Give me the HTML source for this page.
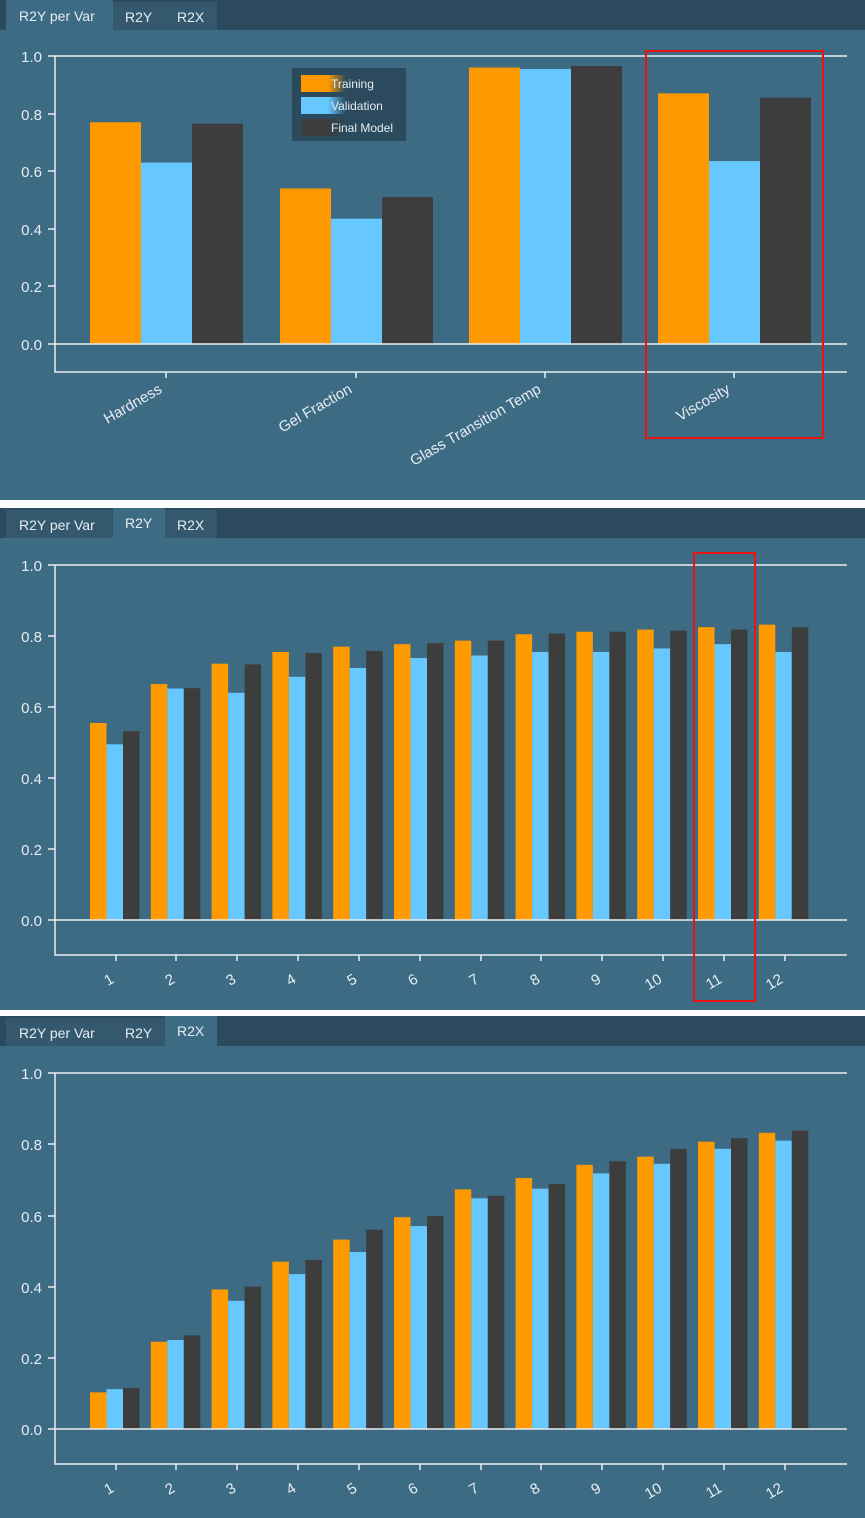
<!DOCTYPE html>
<html><head><meta charset="utf-8"><style>
html,body{margin:0;padding:0;background:#fff;}
svg{display:block;font-family:"Liberation Sans",sans-serif;}
</style></head><body>
<svg width="865" height="1518" viewBox="0 0 865 1518" xmlns="http://www.w3.org/2000/svg">
<defs>
<linearGradient id="go" x1="0" x2="1"><stop offset="0.6" stop-color="#ff9900"/><stop offset="1" stop-color="#ff9900" stop-opacity="0"/></linearGradient>
<linearGradient id="gb" x1="0" x2="1"><stop offset="0.6" stop-color="#66c8ff"/><stop offset="1" stop-color="#66c8ff" stop-opacity="0"/></linearGradient>
<linearGradient id="gd" x1="0" x2="1"><stop offset="0.6" stop-color="#3d3d3d"/><stop offset="1" stop-color="#3d3d3d" stop-opacity="0"/></linearGradient>
</defs>
<rect width="865" height="1518" fill="#fff"/>
<!-- ========== PANEL 1 ========== -->
<rect x="0" y="0" width="865" height="500" fill="#3d6b84"/>
<rect x="0" y="0" width="865" height="30" fill="#2b4a5e"/>
<rect x="6" y="0" width="107" height="30" fill="#3d6b84"/>
<rect x="113" y="2" width="104" height="28" fill="#34596f"/>
<g fill="#e6edf2" font-size="14">
<text x="19" y="21">R2Y per Var</text><text x="125" y="22">R2Y</text><text x="177" y="22">R2X</text></g>
<g transform="translate(0,344) scale(1,-288)">
<g transform="translate(90,0)"><rect width="51" height="0.77" fill="#ff9900"/><rect x="51" width="51" height="0.63" fill="#66c8ff"/><rect x="102" width="51" height="0.765" fill="#3d3d3d"/></g>
<g transform="translate(280,0)"><rect width="51" height="0.54" fill="#ff9900"/><rect x="51" width="51" height="0.435" fill="#66c8ff"/><rect x="102" width="51" height="0.51" fill="#3d3d3d"/></g>
<g transform="translate(469,0)"><rect width="51" height="0.96" fill="#ff9900"/><rect x="51" width="51" height="0.955" fill="#66c8ff"/><rect x="102" width="51" height="0.965" fill="#3d3d3d"/></g>
<g transform="translate(658,0)"><rect width="51" height="0.87" fill="#ff9900"/><rect x="51" width="51" height="0.635" fill="#66c8ff"/><rect x="102" width="51" height="0.855" fill="#3d3d3d"/></g>
</g>
<g stroke="#e8eef2" stroke-width="1.5" fill="none">
<path d="M55 56H847M55 56V372H847M55 344H847"/>
<path d="M48 56H55M48 114H55M48 171H55M48 229H55M48 286H55M48 344H55"/>
<path d="M166 372V378M356 372V378M545 372V378M734 372V378"/>
</g>
<g fill="#e6edf2" font-size="15" text-anchor="end">
<text x="42" y="62">1.0</text><text x="42" y="120">0.8</text><text x="42" y="177">0.6</text><text x="42" y="235">0.4</text><text x="42" y="292">0.2</text><text x="42" y="350">0.0</text>
<text transform="translate(163,392) rotate(-30)">Hardness</text>
<text transform="translate(353,392) rotate(-30)">Gel Fraction</text>
<text transform="translate(542,392) rotate(-30)">Glass Transition Temp</text>
<text transform="translate(731,392) rotate(-30)">Viscosity</text>
</g>
<rect x="292" y="68" width="114" height="73" fill="#2b4a5e"/>
<rect x="301" y="75" width="45" height="17" fill="url(#go)"/>
<rect x="301" y="97" width="45" height="17" fill="url(#gb)"/>
<rect x="301" y="119" width="45" height="17" fill="url(#gd)"/>
<g fill="#e6edf2" font-size="12"><text x="331" y="88">Training</text><text x="331" y="110">Validation</text><text x="331" y="132">Final Model</text></g>
<rect x="646" y="51" width="177" height="387" fill="none" stroke="#ee1111" stroke-width="2"/>

<!-- ========== PANEL 2 ========== -->
<rect x="0" y="508" width="865" height="502" fill="#3d6b84"/>
<rect x="0" y="508" width="865" height="30" fill="#2b4a5e"/>
<rect x="6" y="510" width="107" height="28" fill="#34596f"/>
<rect x="113" y="508" width="52" height="30" fill="#3d6b84"/>
<rect x="165" y="510" width="52" height="28" fill="#34596f"/>
<g fill="#e6edf2" font-size="14">
<text x="19" y="530">R2Y per Var</text><text x="125" y="528">R2Y</text><text x="177" y="530">R2X</text></g>
<g transform="translate(0,920) scale(1,-355)">
<g transform="translate(90,0)"><rect width="16.5" height="0.555" fill="#ff9900"/><rect x="16.5" width="16.5" height="0.495" fill="#66c8ff"/><rect x="33" width="16.5" height="0.532" fill="#3d3d3d"/></g>
<g transform="translate(150.8,0)"><rect width="16.5" height="0.665" fill="#ff9900"/><rect x="16.5" width="16.5" height="0.652" fill="#66c8ff"/><rect x="33" width="16.5" height="0.653" fill="#3d3d3d"/></g>
<g transform="translate(211.6,0)"><rect width="16.5" height="0.722" fill="#ff9900"/><rect x="16.5" width="16.5" height="0.64" fill="#66c8ff"/><rect x="33" width="16.5" height="0.72" fill="#3d3d3d"/></g>
<g transform="translate(272.4,0)"><rect width="16.5" height="0.755" fill="#ff9900"/><rect x="16.5" width="16.5" height="0.685" fill="#66c8ff"/><rect x="33" width="16.5" height="0.752" fill="#3d3d3d"/></g>
<g transform="translate(333.2,0)"><rect width="16.5" height="0.77" fill="#ff9900"/><rect x="16.5" width="16.5" height="0.71" fill="#66c8ff"/><rect x="33" width="16.5" height="0.758" fill="#3d3d3d"/></g>
<g transform="translate(394,0)"><rect width="16.5" height="0.777" fill="#ff9900"/><rect x="16.5" width="16.5" height="0.738" fill="#66c8ff"/><rect x="33" width="16.5" height="0.78" fill="#3d3d3d"/></g>
<g transform="translate(454.8,0)"><rect width="16.5" height="0.787" fill="#ff9900"/><rect x="16.5" width="16.5" height="0.745" fill="#66c8ff"/><rect x="33" width="16.5" height="0.787" fill="#3d3d3d"/></g>
<g transform="translate(515.6,0)"><rect width="16.5" height="0.805" fill="#ff9900"/><rect x="16.5" width="16.5" height="0.755" fill="#66c8ff"/><rect x="33" width="16.5" height="0.807" fill="#3d3d3d"/></g>
<g transform="translate(576.4,0)"><rect width="16.5" height="0.812" fill="#ff9900"/><rect x="16.5" width="16.5" height="0.755" fill="#66c8ff"/><rect x="33" width="16.5" height="0.812" fill="#3d3d3d"/></g>
<g transform="translate(637.2,0)"><rect width="16.5" height="0.818" fill="#ff9900"/><rect x="16.5" width="16.5" height="0.765" fill="#66c8ff"/><rect x="33" width="16.5" height="0.815" fill="#3d3d3d"/></g>
<g transform="translate(698,0)"><rect width="16.5" height="0.825" fill="#ff9900"/><rect x="16.5" width="16.5" height="0.777" fill="#66c8ff"/><rect x="33" width="16.5" height="0.818" fill="#3d3d3d"/></g>
<g transform="translate(758.8,0)"><rect width="16.5" height="0.832" fill="#ff9900"/><rect x="16.5" width="16.5" height="0.755" fill="#66c8ff"/><rect x="33" width="16.5" height="0.825" fill="#3d3d3d"/></g>
</g>
<g stroke="#e8eef2" stroke-width="1.5" fill="none">
<path d="M55 565H847M55 565V955H847M55 920H847"/>
<path d="M48 565H55M48 636H55M48 707H55M48 778H55M48 849H55M48 920H55"/>
<path d="M116 955V961M176 955V961M237 955V961M298 955V961M359 955V961M420 955V961M481 955V961M541 955V961M602 955V961M663 955V961M724 955V961M785 955V961"/>
</g>
<g fill="#e6edf2" font-size="15" text-anchor="end">
<text x="42" y="571">1.0</text><text x="42" y="642">0.8</text><text x="42" y="713">0.6</text><text x="42" y="784">0.4</text><text x="42" y="855">0.2</text><text x="42" y="926">0.0</text>
<text transform="translate(115,982) rotate(-30)">1</text>
<text transform="translate(176,982) rotate(-30)">2</text>
<text transform="translate(237,982) rotate(-30)">3</text>
<text transform="translate(297,982) rotate(-30)">4</text>
<text transform="translate(358,982) rotate(-30)">5</text>
<text transform="translate(419,982) rotate(-30)">6</text>
<text transform="translate(480,982) rotate(-30)">7</text>
<text transform="translate(541,982) rotate(-30)">8</text>
<text transform="translate(602,982) rotate(-30)">9</text>
<text transform="translate(663,982) rotate(-30)">10</text>
<text transform="translate(723,982) rotate(-30)">11</text>
<text transform="translate(784,982) rotate(-30)">12</text>
</g>
<rect x="694" y="553" width="61" height="448" fill="none" stroke="#ee1111" stroke-width="2"/>

<!-- ========== PANEL 3 ========== -->
<rect x="0" y="1016" width="865" height="502" fill="#3d6b84"/>
<rect x="0" y="1016" width="865" height="30" fill="#2b4a5e"/>
<rect x="6" y="1018" width="107" height="28" fill="#34596f"/>
<rect x="113" y="1018" width="52" height="28" fill="#34596f"/>
<rect x="165" y="1016" width="52" height="30" fill="#3d6b84"/>
<g fill="#e6edf2" font-size="14">
<text x="19" y="1038">R2Y per Var</text><text x="125" y="1038">R2Y</text><text x="177" y="1036">R2X</text></g>
<g transform="translate(0,1429) scale(1,-356)">
<g transform="translate(90,0)"><rect width="16.5" height="0.103" fill="#ff9900"/><rect x="16.5" width="16.5" height="0.112" fill="#66c8ff"/><rect x="33" width="16.5" height="0.115" fill="#3d3d3d"/></g>
<g transform="translate(150.8,0)"><rect width="16.5" height="0.245" fill="#ff9900"/><rect x="16.5" width="16.5" height="0.25" fill="#66c8ff"/><rect x="33" width="16.5" height="0.263" fill="#3d3d3d"/></g>
<g transform="translate(211.6,0)"><rect width="16.5" height="0.392" fill="#ff9900"/><rect x="16.5" width="16.5" height="0.36" fill="#66c8ff"/><rect x="33" width="16.5" height="0.4" fill="#3d3d3d"/></g>
<g transform="translate(272.4,0)"><rect width="16.5" height="0.47" fill="#ff9900"/><rect x="16.5" width="16.5" height="0.435" fill="#66c8ff"/><rect x="33" width="16.5" height="0.475" fill="#3d3d3d"/></g>
<g transform="translate(333.2,0)"><rect width="16.5" height="0.532" fill="#ff9900"/><rect x="16.5" width="16.5" height="0.497" fill="#66c8ff"/><rect x="33" width="16.5" height="0.56" fill="#3d3d3d"/></g>
<g transform="translate(394,0)"><rect width="16.5" height="0.595" fill="#ff9900"/><rect x="16.5" width="16.5" height="0.57" fill="#66c8ff"/><rect x="33" width="16.5" height="0.598" fill="#3d3d3d"/></g>
<g transform="translate(454.8,0)"><rect width="16.5" height="0.673" fill="#ff9900"/><rect x="16.5" width="16.5" height="0.648" fill="#66c8ff"/><rect x="33" width="16.5" height="0.655" fill="#3d3d3d"/></g>
<g transform="translate(515.6,0)"><rect width="16.5" height="0.705" fill="#ff9900"/><rect x="16.5" width="16.5" height="0.675" fill="#66c8ff"/><rect x="33" width="16.5" height="0.688" fill="#3d3d3d"/></g>
<g transform="translate(576.4,0)"><rect width="16.5" height="0.742" fill="#ff9900"/><rect x="16.5" width="16.5" height="0.718" fill="#66c8ff"/><rect x="33" width="16.5" height="0.752" fill="#3d3d3d"/></g>
<g transform="translate(637.2,0)"><rect width="16.5" height="0.765" fill="#ff9900"/><rect x="16.5" width="16.5" height="0.745" fill="#66c8ff"/><rect x="33" width="16.5" height="0.787" fill="#3d3d3d"/></g>
<g transform="translate(698,0)"><rect width="16.5" height="0.807" fill="#ff9900"/><rect x="16.5" width="16.5" height="0.787" fill="#66c8ff"/><rect x="33" width="16.5" height="0.817" fill="#3d3d3d"/></g>
<g transform="translate(758.8,0)"><rect width="16.5" height="0.832" fill="#ff9900"/><rect x="16.5" width="16.5" height="0.81" fill="#66c8ff"/><rect x="33" width="16.5" height="0.838" fill="#3d3d3d"/></g>
</g>
<g stroke="#e8eef2" stroke-width="1.5" fill="none">
<path d="M55 1073H847M55 1073V1464H847M55 1429H847"/>
<path d="M48 1073H55M48 1144H55M48 1216H55M48 1287H55M48 1358H55M48 1429H55"/>
<path d="M116 1464V1470M176 1464V1470M237 1464V1470M298 1464V1470M359 1464V1470M420 1464V1470M481 1464V1470M541 1464V1470M602 1464V1470M663 1464V1470M724 1464V1470M785 1464V1470"/>
</g>
<g fill="#e6edf2" font-size="15" text-anchor="end">
<text x="42" y="1079">1.0</text><text x="42" y="1150">0.8</text><text x="42" y="1222">0.6</text><text x="42" y="1293">0.4</text><text x="42" y="1364">0.2</text><text x="42" y="1435">0.0</text>
<text transform="translate(115,1491) rotate(-30)">1</text>
<text transform="translate(176,1491) rotate(-30)">2</text>
<text transform="translate(237,1491) rotate(-30)">3</text>
<text transform="translate(297,1491) rotate(-30)">4</text>
<text transform="translate(358,1491) rotate(-30)">5</text>
<text transform="translate(419,1491) rotate(-30)">6</text>
<text transform="translate(480,1491) rotate(-30)">7</text>
<text transform="translate(541,1491) rotate(-30)">8</text>
<text transform="translate(602,1491) rotate(-30)">9</text>
<text transform="translate(663,1491) rotate(-30)">10</text>
<text transform="translate(723,1491) rotate(-30)">11</text>
<text transform="translate(784,1491) rotate(-30)">12</text>
</g>
</svg>
</body></html>
